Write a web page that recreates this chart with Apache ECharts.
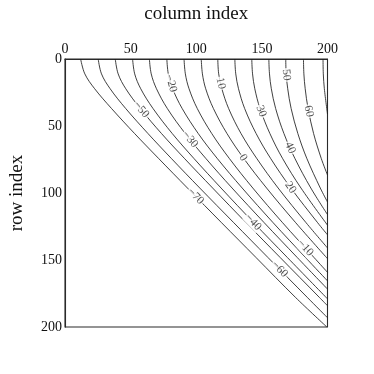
<!DOCTYPE html>
<html>
<head>
<meta charset="utf-8">
<script src="https://cdn.jsdelivr.net/npm/echarts@6/dist/echarts.min.js"></script>
<style>
  html, body { margin: 0; padding: 0; background: #fff; }
  #chart { width: 374px; height: 374px; }
</style>
</head>
<body>
<div id="chart"></div>
<script>
'use strict';

// contour levels, one per line (left to right along the top edge)
var levels = [-70, -60, -50, -40, -30, -20, -10, 0, 10, 20, 30, 40, 50, 60, 70];

// contour lines as [column, row] points
var c0 = [[11.9, 0], [15.1, 11.1], [22.6, 22.2], [35.5, 37.0], [53.0, 55.6], [71.2, 74.1], [93.3, 96.3], [119.3, 122.2], [145.5, 148.1], [175.5, 177.8], [199.5, 200]];
var c1 = [[25.3, 0], [27.8, 11.1], [34.4, 22.2], [46.3, 37.0], [63.2, 55.6], [80.9, 74.1], [102.7, 96.3], [128.6, 122.2], [154.6, 148.1], [184.5, 177.8], [200, 193.1]];
var c2 = [[38.3, 0], [40.5, 11.1], [46.3, 22.2], [57.4, 37.0], [73.5, 55.6], [90.9, 74.1], [112.5, 96.3], [138.0, 122.2], [163.9, 148.1], [193.7, 177.8], [200, 184.1]];
var c3 = [[51.5, 0], [53.1, 11.1], [57.7, 22.2], [67.1, 37.0], [81.7, 55.6], [98.1, 74.1], [118.9, 96.3], [143.8, 122.2], [169.4, 148.1], [200, 179.0]];
var c4 = [[64.3, 0], [65.7, 11.1], [69.7, 22.2], [78.0, 37.0], [91.6, 55.6], [107.2, 74.1], [127.3, 96.3], [151.8, 122.2], [176.9, 148.1], [200, 171.7]];
var c5 = [[77.6, 0], [78.7, 11.1], [82.0, 22.2], [89.3, 37.0], [101.5, 55.6], [115.9, 74.1], [135.0, 96.3], [158.6, 122.2], [183.2, 148.1], [200, 165.6]];
var c6 = [[90.7, 0], [91.7, 11.1], [94.5, 22.2], [100.8, 37.0], [111.8, 55.6], [125.1, 74.1], [143.1, 96.3], [165.8, 122.2], [189.7, 148.1], [200, 159.2]];
var c7 = [[103.8, 0], [104.7, 11.1], [107.2, 22.2], [113.1, 37.0], [123.4, 55.6], [136.1, 74.1], [153.6, 96.3], [175.8, 122.2], [200, 149.0]];
var c8 = [[116.4, 0], [117.1, 11.1], [119.5, 22.2], [124.7, 37.0], [134.1, 55.6], [146.0, 74.1], [162.4, 96.3], [183.7, 122.2], [200, 141.0]];
var c9 = [[129.4, 0], [130.1, 11.1], [132.2, 22.2], [136.9, 37.0], [145.6, 55.6], [156.6, 74.1], [172.1, 96.3], [192.5, 122.2], [200, 131.2]];
var c10 = [[142.3, 0], [142.9, 11.1], [144.6, 22.2], [148.6, 37.0], [156.1, 55.6], [165.7, 74.1], [179.8, 96.3], [200, 124.0]];
var c11 = [[155.3, 0], [155.8, 11.1], [157.2, 22.2], [160.5, 37.0], [166.8, 55.6], [175.1, 74.1], [187.3, 96.3], [200, 116.1]];
var c12 = [[168.2, 0], [168.5, 11.1], [169.7, 22.2], [172.3, 37.0], [177.4, 55.6], [184.2, 74.1], [194.5, 96.3], [200, 106.7]];
var c13 = [[181.7, 0], [182.0, 11.1], [183.0, 22.2], [185.2, 37.0], [189.4, 55.6], [195.2, 74.1], [200, 86.6]];
var c14 = [[196.6, 0], [196.8, 11.1], [197.6, 22.2], [200, 41.1]];

var contours = [c0, c1, c2, c3, c4, c5, c6, c7, c8, c9, c10, c11, c12, c13, c14];

// inline labels: which line, and at which row it sits
var labelLines = [0, 1, 2, 3, 4, 5, 6, 7, 8, 9, 10, 11, 12, 13];
var labelRows = [102.5, 157.0, 37.8, 121.8, 60.0, 18.1, 141.0, 73.6, 18.1, 95.9, 39.0, 66.2, 11.9, 39.0];

var axisTicks = [0, 50, 100, 150, 200];

var serif = '"Liberation Serif", "Times New Roman", "DejaVu Serif", serif';
var ink = '#111';

var chart = echarts.init(document.getElementById('chart'));

var lineSeries = contours.map(function(pts) {
  return {
    type: 'line',
    data: pts,
    smooth: 0.35,
    symbol: 'none',
    silent: true,
    lineStyle: { color: '#1e1e1e', width: 0.85 },
    z: 2
  };
});

chart.setOption({
  animation: false,
  grid: { left: 62.5, right: 46.5, top: 57, bottom: 47, show: true, borderColor: '#2a2a2a', borderWidth: 1.1 },
  xAxis: {
    type: 'value', position: 'top', min: axisTicks[0], max: axisTicks[axisTicks.length - 1], interval: 50,
    name: 'column index', nameLocation: 'middle', nameGap: 35,
    nameTextStyle: { fontFamily: serif, fontSize: 19, color: ink },
    axisLine: { show: true, lineStyle: { color: '#2a2a2a', width: 1.1 } },
    axisTick: { show: false },
    axisLabel: { fontFamily: serif, fontSize: 14, color: ink, margin: 3 },
    splitLine: { show: false }
  },
  yAxis: {
    type: 'value', inverse: true, min: axisTicks[0], max: axisTicks[axisTicks.length - 1], interval: 50,
    name: 'row index', nameLocation: 'middle', nameGap: 38, nameRotate: 90,
    nameTextStyle: { fontFamily: serif, fontSize: 19, color: ink },
    axisLine: { show: true, lineStyle: { color: '#2a2a2a', width: 1.1 } },
    axisTick: { show: false },
    axisLabel: { fontFamily: serif, fontSize: 14, color: ink, margin: 3 },
    splitLine: { show: false }
  },
  series: lineSeries
});

// find where a label sits on its line and the line's direction there
var placeOnLine = function(pts, row) {
  for (var i = 1; i < pts.length; i++) {
    if (pts[i][1] >= row) {
      var a = pts[i - 1], b = pts[i];
      var t = (row - a[1]) / (b[1] - a[1]);
      var col = a[0] + t * (b[0] - a[0]);
      var pa = chart.convertToPixel({ gridIndex: 0 }, a);
      var pb = chart.convertToPixel({ gridIndex: 0 }, b);
      var ang = Math.atan2(pb[1] - pa[1], pb[0] - pa[0]) * 180 / Math.PI;
      return { value: [col, row], rot: -ang };
    }
  }
  return { value: pts[pts.length - 1], rot: -45 };
};

var labelData = labelLines.map(function(li, k) {
  var p = placeOnLine(contours[li], labelRows[k]);
  var v = levels[li];
  return {
    value: p.value,
    label: { rotate: p.rot, formatter: (v < 0 ? '\u2212' + (-v) : String(v)) }
  };
});

chart.setOption({
  series: lineSeries.concat([{
    type: 'scatter',
    data: labelData,
    symbolSize: 2,
    itemStyle: { color: 'rgba(0,0,0,0)' },
    silent: true,
    z: 5,
    label: {
      show: true, position: 'inside',
      fontFamily: serif, fontSize: 11.5, color: '#222',
      backgroundColor: '#fff', padding: [0, 1]
    }
  }])
});
</script>
</body>
</html>
